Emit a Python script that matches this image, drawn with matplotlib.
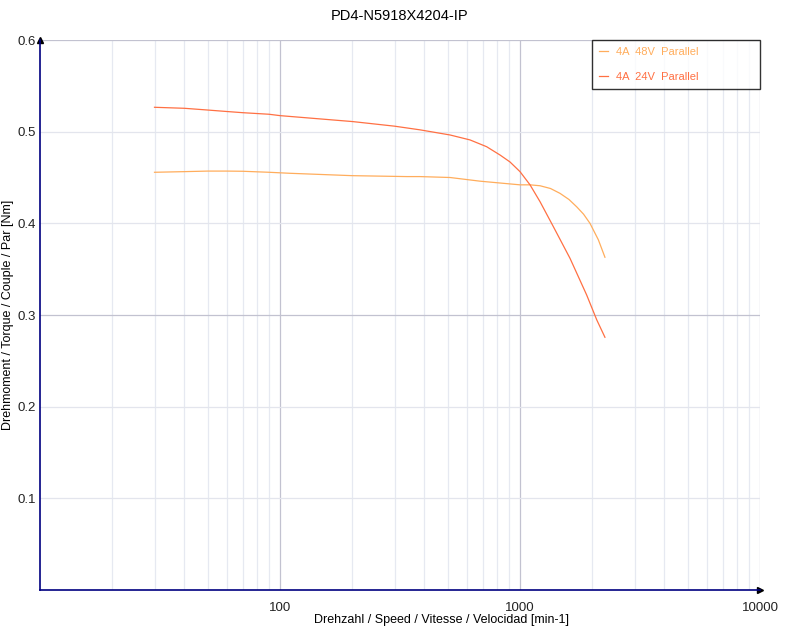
import matplotlib.pyplot as plt
from matplotlib.ticker import FixedLocator, NullFormatter

plt.rcParams['font.family'] = ['Liberation Sans', 'DejaVu Sans']

# speed [min-1] and torque [Nm]
speed_48v = [30, 40, 50, 60, 70, 90, 110, 200, 338, 383, 511, 681, 908, 1000, 1101,
             1212, 1340, 1468, 1600, 1723, 1840, 1957, 2121, 2259]
torque_48v = [0.4557, 0.4564, 0.457, 0.457, 0.4568, 0.4557, 0.4546, 0.452, 0.451, 0.451, 0.450,
              0.446, 0.443, 0.442, 0.442, 0.441, 0.438, 0.4327, 0.426, 0.418, 0.410,
              0.400, 0.382, 0.363]

speed_24v = [30, 40, 50, 60, 70, 90, 100, 201, 300, 383, 511, 619, 726, 826, 908, 1000,
             1101, 1212, 1377, 1616, 1896, 2089, 2259]
torque_24v = [0.5266, 0.5255, 0.5236, 0.522, 0.5207, 0.519, 0.5175, 0.511, 0.506, 0.502,
              0.4964, 0.491, 0.4836, 0.4745, 0.467, 0.4564, 0.442, 0.4236, 0.3964, 0.3618,
              0.3218, 0.2946, 0.2757]

labels = ['4A  48V  Parallel', '4A  24V  Parallel']
colors = ['#ffad5c', '#ff7043']

x_ticks = [100, 1000, 10000]
y_ticks = [0.1, 0.2, 0.3, 0.4, 0.5, 0.6]

fig = plt.figure(figsize=(8, 6.3), dpi=100)
ax = fig.add_axes([0.05, 0.0635, 0.9, 0.873])

ax.set_xscale('log')
ax.set_xlim(10, 10000)
ax.set_ylim(0, 0.6)

# grid
minor_x = [m * 10 ** e for e in range(1, 4) for m in range(2, 10)]
for v in minor_x:
    ax.axvline(v, color='#e6e9f1', lw=0.9, zorder=0)
for v in x_ticks:
    ax.axvline(v, color='#c2c2d0', lw=0.9, zorder=0)
for v in y_ticks:
    c = '#c2c2d0' if v in (0.3, 0.6) else '#e3e5ed'
    ax.axhline(v, color=c, lw=0.9, zorder=0)

l1, = ax.plot(speed_48v, torque_48v, color=colors[0], lw=0.9, label=labels[0])
l2, = ax.plot(speed_24v, torque_24v, color=colors[1], lw=0.9, label=labels[1])

ax.xaxis.set_major_locator(FixedLocator(x_ticks))
ax.xaxis.set_minor_locator(FixedLocator([]))
ax.xaxis.set_minor_formatter(NullFormatter())
ax.set_xticklabels([str(v) for v in x_ticks])
ax.set_yticks(y_ticks)
ax.set_yticklabels([str(v) for v in y_ticks])
ax.tick_params(length=0, labelsize=9.5, colors='#222222')
ax.tick_params(axis='x', pad=9)
ax.tick_params(axis='y', pad=3)

for s in ['top', 'right']:
    ax.spines[s].set_visible(False)
for s in ['left', 'bottom']:
    ax.spines[s].set_color('#000080')
    ax.spines[s].set_linewidth(1.2)

# arrow heads
ax.plot(1, 0, '>', color='black', ms=5, transform=ax.transAxes, clip_on=False)
ax.plot(0, 1, '^', color='black', ms=5, transform=ax.transAxes, clip_on=False)

fig.suptitle('PD4-N5918X4204-IP', y=0.985, fontsize=10.5)
fig.text(441 / 800, 1 - 620 / 630, 'Drehzahl / Speed / Vitesse / Velocidad [min-1]',
         ha='center', va='center', fontsize=9)
fig.text(8 / 800, 0.5, 'Drehmoment / Torque / Couple / Par [Nm]',
         rotation=90, ha='center', va='center', fontsize=9)

leg = ax.legend(handles=[l1, l2], loc='upper left',
                bbox_to_anchor=(552 / 720, 1.0, 168 / 720, 0.0), mode='expand',
                fontsize=8, frameon=True, fancybox=False, handlelength=0.85,
                handletextpad=0.75, borderpad=0.6, labelspacing=1.4, borderaxespad=0)
leg.get_frame().set_edgecolor('black')
leg.get_frame().set_linewidth(1)
for t, c in zip(leg.get_texts(), colors):
    t.set_color(c)

fig.savefig('out.png', dpi=100)
